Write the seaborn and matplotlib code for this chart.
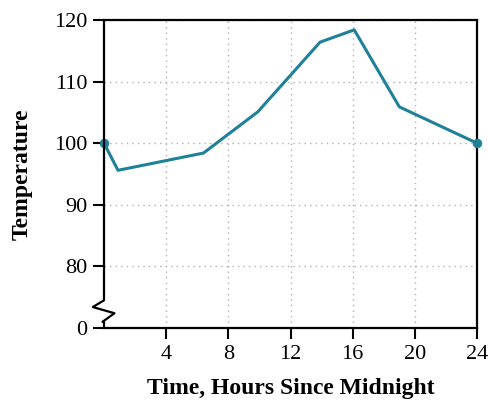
import matplotlib
matplotlib.use("Agg")
import matplotlib.pyplot as plt
import matplotlib.transforms as mtransforms
import seaborn as sns

# hours since midnight vs temperature
hours = [0, 0.9, 6.4, 9.9, 13.9, 16.1, 19.0, 24]
temps = [100, 95.6, 98.4, 105.1, 116.4, 118.4, 105.9, 100]

x_ticks = [4, 8, 12, 16, 20, 24]
y_ticks = [70, 80, 90, 100, 110, 120]
y_tick_labels = ["0", "80", "90", "100", "110", "120"]

line_color = "#1f8199"

sns.set_style("white")
plt.rcParams["font.family"] = ["Liberation Serif", "DejaVu Serif"]
plt.rcParams["text.color"] = "black"
plt.rcParams["axes.labelcolor"] = "black"
plt.rcParams["xtick.color"] = "black"
plt.rcParams["ytick.color"] = "black"

fig = plt.figure(figsize=(4.89, 4.03), dpi=100)
ax = fig.add_axes([0.2127, 0.1861, 0.7628, 0.7643])

sns.lineplot(x=hours, y=temps, color=line_color, linewidth=2.2, ax=ax)
sns.scatterplot(x=[hours[0], hours[-1]], y=[temps[0], temps[-1]],
                color=line_color, s=40, edgecolor=line_color, ax=ax,
                zorder=5, clip_on=False)

ax.set_xlim(0, 24)
ax.set_ylim(70, 120)
ax.set_xticks(x_ticks)
ax.set_yticks(y_ticks)
ax.set_yticklabels(y_tick_labels)
ax.tick_params(axis="both", direction="out", length=8, width=1.5,
               labelsize=16, color="black", labelcolor="black",
               left=True, bottom=True, pad=4)

ax.grid(True, linestyle=(0, (1, 3)), color="#b0b0b0", linewidth=1)
for s in ["top", "right", "bottom"]:
    ax.spines[s].set_color("black")
    ax.spines[s].set_linewidth(1.6)
ax.spines["left"].set_visible(False)

# left axis with a zigzag break near the bottom
trans = mtransforms.blended_transform_factory(ax.transAxes, ax.transAxes)
bx = [0, 0, -0.03, 0.028, -0.004, 0, 0]
by = [1, 0.09, 0.068, 0.048, 0.02, 0.02, 0]
ax.plot(bx, by, color="black", linewidth=1.6, transform=trans, clip_on=False,
        zorder=6)

ax.set_xlabel("Time, Hours Since Midnight", fontsize=17, fontweight="bold",
              labelpad=10)
ax.set_ylabel("Temperature", fontsize=17, fontweight="bold", labelpad=15)

fig.savefig("out.png", dpi=100)
